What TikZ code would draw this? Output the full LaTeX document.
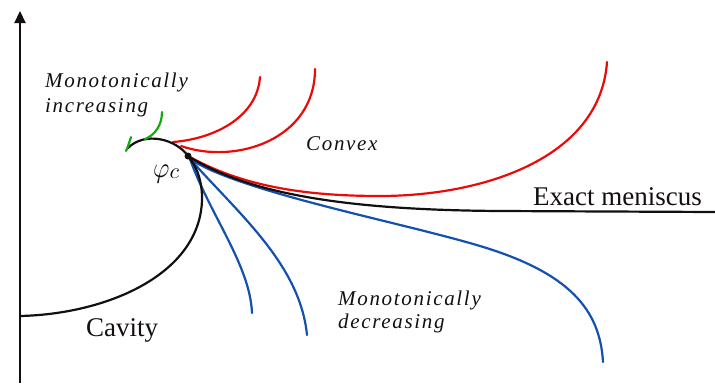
\documentclass[tikz,border=0pt]{standalone}
\usepackage{fontspec}
\usepackage{graphicx}
\setmainfont{Liberation Serif}
\usetikzlibrary{arrows.meta}
\definecolor{cred}{RGB}{235,10,10}
\definecolor{cblue}{RGB}{20,80,175}
\definecolor{cgreen}{RGB}{20,170,20}
\definecolor{cblack}{RGB}{20,15,15}
\tikzset{
  curve/.style={line width=2.2pt, line cap=round},
  redc/.style={curve, cred},
  bluec/.style={curve, cblue},
  blackc/.style={curve, cblack},
  greenc/.style={curve, cgreen},
  big/.style={font=\fontsize{27}{30}\selectfont, text=cblack, inner sep=0pt, anchor=base west},
  ital/.style={font=\fontsize{21}{24}\selectfont\itshape\addfontfeature{LetterSpace=8}, text=cblack, inner sep=0pt, anchor=base west},
}
\begin{document}
\begin{tikzpicture}[x=1pt,y=-1pt]
\useasboundingbox (0,0) rectangle (715,383);
% axis
\coordinate (axbot) at (20,383);
\coordinate (axtop) at (20,11);
\draw[line width=2.2pt, cblack, -{Triangle[width=11pt,length=12pt]}] (axbot) -- (axtop);
% red curves
\draw[redc] (173,142) .. controls (213,139) and (257,118) .. (260,77);
\draw[redc] (181,146) .. controls (235,165) and (315,140) .. (315,69);
\draw[redc] (188,156) .. controls (240,185) and (300,196) .. (380,196) .. controls (480,196) and (600,160) .. (607,62);
% blue curves
\draw[bluec] (190,159) .. controls (210,215) and (250,265) .. (252,313);
\draw[bluec] (190,159) .. controls (240,215) and (300,265) .. (307,335);
\draw[bluec] (190,159) .. controls (240,192) and (400,222) .. (480,246) .. controls (570,273) and (600,310) .. (603,362);
% exact meniscus
\draw[blackc] (188,156) .. controls (250,195) and (350,210) .. (500,211) -- (715,212);
% cavity + arc
\draw[blackc] (20,316) .. controls (110,314) and (204,272) .. (202,195) .. controls (201,177) and (196,166) .. (188,156) .. controls (176,139) and (145,131) .. (128,148);
% green
\draw[greenc] (131,137) .. controls (129,143) and (128,147) .. (126,151);
\draw[greenc] (145,139) .. controls (155,135) and (162,125) .. (162,112);
% critical point
\node[circle, fill=cblack, inner sep=0pt, minimum size=7pt] (pc) at (188,156) {};
% labels
\node[big] (cav) at (86,336) {Cavity};
\node[big] (exm) at (533,205) {Exact meniscus};
\node[ital] (mi1) at (45,87) {Monotonically};
\node[ital] (mi2) at (45,112) {increasing};
\node[ital] (cvx) at (306,150) {Convex};
\node[ital] (md1) at (338,305) {Monotonically};
\node[ital] (md2) at (338,328) {decreasing};
\node[inner sep=0pt, anchor=base west, text=cblack, font=\fontsize{10}{12}\selectfont] (phi) at (153,177) {\scalebox{2.5}[2.9]{$\varphi$}\scalebox{2.2}{\raisebox{-0.5pt}{$c$}}};
\end{tikzpicture}
\end{document}
